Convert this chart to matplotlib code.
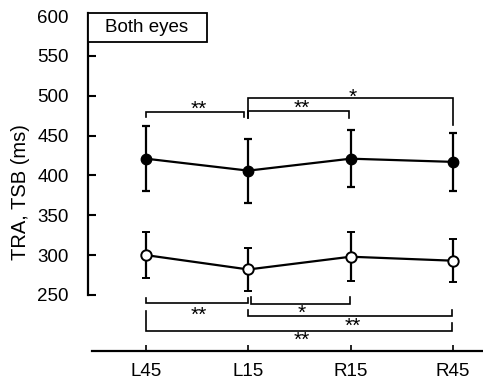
import matplotlib
matplotlib.use("Agg")
import matplotlib.pyplot as plt
from matplotlib.patches import Rectangle

plt.rcParams['font.family'] = ['Liberation Sans', 'DejaVu Sans']

# ---- data ----
categories = ["L45", "L15", "R15", "R45"]
tra_mean = [421, 406, 421, 417]      # closed circles
tra_err = [41, 40, 36, 36]
tsb_mean = [300, 282, 298, 293]      # open circles
tsb_err = [29, 27, 31, 27]
yticks = [250, 300, 350, 400, 450, 500, 550, 600]

# significance brackets: (i, j, label, bar level, left end, right end, label y, x offsets)
top_brackets = [
    (0, 1, "**", 479.6, 473.0, 473.0, 487.0, 0.0, -0.04),
    (1, 2, "**", 481.0, 472.0, 472.0, 488.0, 0.0, -0.02),
    (1, 3, "*", 497.0, 472.0, 463.0, 503.0, 0.0, 0.0),
]
bottom_brackets = [
    (0, 1, "**", 240.0, 246.0, 246.0, 229.0, 0.0, 0.0),
    (1, 2, "*", 239.0, 247.5, 247.5, 232.0, 0.03, -0.01),
    (1, 3, "**", 223.5, 231.0, 231.0, 215.0, 0.0, -0.01),
    (0, 3, "**", 205.0, 230.0, 215.0, 197.0, 0.0, -0.01),
]

x = list(range(len(categories)))

fig = plt.figure(figsize=(4.83, 3.85), dpi=100)
ax = fig.add_axes([88 / 483, 34 / 385, 395 / 483, 338 / 385])
ax.set_xlim(-0.567, 3.294)
ax.set_ylim(179.7, 603.8)

ax.errorbar(x, tra_mean, yerr=tra_err, fmt='-o', color='black', mfc='black',
            mec='black', ms=7.5, lw=1.6, elinewidth=1.6, capsize=3.2, capthick=1.6, zorder=3)
ax.errorbar(x, tsb_mean, yerr=tsb_err, fmt='-o', color='black', mfc='white',
            mec='black', mew=1.4, ms=7.5, lw=1.6, elinewidth=1.6, capsize=3.2, capthick=1.6, zorder=3)

def bracket(i, j, lab, level, lend, rend, ly, dx0, dx1):
    xs = [i + dx0, i + dx0, j + dx1, j + dx1]
    ys = [lend, level, level, rend]
    ax.plot(xs, ys, color='black', lw=1.2, solid_joinstyle='miter', zorder=2)
    ax.annotate(lab, ((i + j) / 2 + 0.02, ly), xytext=(0, -6.5), textcoords='offset points',
                ha='center', va='baseline', fontsize=15)

for b in top_brackets:
    bracket(*b)
for b in bottom_brackets:
    bracket(*b)

for s in ['top', 'right']:
    ax.spines[s].set_visible(False)
ax.spines['left'].set_bounds(250, 603.8)
ax.spines['left'].set_linewidth(1.6)
ax.spines['bottom'].set_bounds(-0.528, 3.294)
ax.spines['bottom'].set_linewidth(1.6)

ax.set_yticks(yticks)
ax.set_yticklabels([str(v) for v in yticks])
ax.set_xticks(x)
ax.set_xticklabels(categories)
ax.tick_params(axis='y', direction='in', length=5.5, width=1.5, pad=14, labelsize=13.5)
ax.tick_params(axis='x', direction='in', length=4.5, width=1.2, pad=9, labelsize=13.5)

# "Both eyes" box
ax.add_patch(Rectangle((0, 1 - 29 / 338), 119 / 395, 29 / 338, transform=ax.transAxes,
                       facecolor='white', edgecolor='black', lw=1.3, zorder=5, clip_on=False))
ax.text(0.149, 1 - 14.5 / 338, "Both eyes", transform=ax.transAxes, ha='center',
        va='center', fontsize=13.5, zorder=6)

fig.text(21 / 483, 1 - 192 / 385, "TRA, TSB (ms)", rotation=90, ha='center',
         va='center', fontsize=14.5)

fig.savefig("out.png", dpi=100)
